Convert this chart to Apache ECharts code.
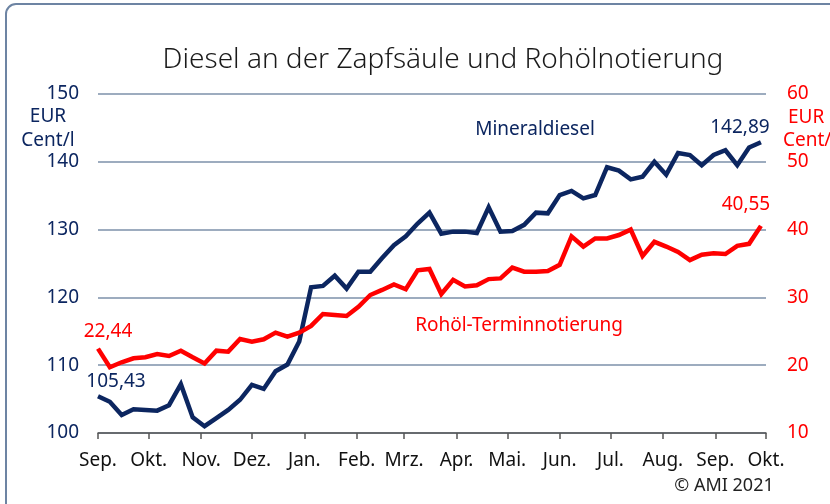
<!DOCTYPE html>
<html>
<head>
<meta charset="utf-8">
<script src="https://cdn.jsdelivr.net/npm/echarts@6/dist/echarts.min.js"></script>
<style>
  html, body { margin: 0; padding: 0; background: #fff; }
  #main { width: 830px; height: 504px; }
</style>
</head>
<body>
<div id="main"></div>
<script>
// weekly quotes, Sep 2020 - Sep 2021
var weeks = [
  "2020-09-01", "2020-09-08", "2020-09-15", "2020-09-22", "2020-09-29",
  "2020-10-06", "2020-10-13", "2020-10-20", "2020-10-27",
  "2020-11-03", "2020-11-10", "2020-11-17", "2020-11-24",
  "2020-12-01", "2020-12-08", "2020-12-15", "2020-12-22", "2020-12-29",
  "2021-01-05", "2021-01-12", "2021-01-19", "2021-01-26",
  "2021-02-02", "2021-02-09", "2021-02-16", "2021-02-23",
  "2021-03-02", "2021-03-09", "2021-03-16", "2021-03-23", "2021-03-30",
  "2021-04-06", "2021-04-13", "2021-04-20", "2021-04-27",
  "2021-05-04", "2021-05-11", "2021-05-18", "2021-05-25",
  "2021-06-01", "2021-06-08", "2021-06-15", "2021-06-22", "2021-06-29",
  "2021-07-06", "2021-07-13", "2021-07-20", "2021-07-27",
  "2021-08-03", "2021-08-10", "2021-08-17", "2021-08-24", "2021-08-31",
  "2021-09-07", "2021-09-14", "2021-09-21", "2021-09-28"
];

// Mineraldiesel, EUR Cent/l (left axis)
var diesel = [
  105.43, 104.6, 102.65, 103.5, 103.4,
  103.3, 104.1, 107.2, 102.3,
  101.0, 102.2, 103.4, 104.9,
  107.1, 106.5, 109.1, 110.1, 113.5,
  121.5, 121.7, 123.2, 121.3,
  123.8, 123.8, 125.8, 127.7,
  129.0, 130.9, 132.5, 129.4, 129.7,
  129.7, 129.5, 133.3, 129.7,
  129.8, 130.7, 132.5, 132.4,
  135.1, 135.7, 134.6, 135.1, 139.2,
  138.7, 137.4, 137.8, 140.0,
  138.1, 141.3, 141.0, 139.5, 141.0,
  141.7, 139.5, 142.1, 142.89
];

// Rohöl-Terminnotierung, EUR Cent/l (right axis)
var rohoel = [
  22.44, 19.69, 20.43, 21.02, 21.17,
  21.65, 21.36, 22.14, 21.17,
  20.25, 22.14, 22.0, 23.86,
  23.47, 23.82, 24.8, 24.2, 24.8,
  25.8, 27.55, 27.4, 27.25,
  28.6, 30.35, 31.1, 31.9,
  31.2, 34.0, 34.2, 30.5, 32.6,
  31.6, 31.8, 32.7, 32.8,
  34.4, 33.8, 33.8, 33.9,
  34.8, 39.0, 37.5, 38.7, 38.7,
  39.2, 40.0, 36.1, 38.2,
  37.5, 36.7, 35.5, 36.3, 36.5,
  36.4, 37.6, 37.9, 40.55
];

var monthNames = ["Jan.", "Feb.", "Mrz.", "Apr.", "Mai.", "Jun.", "Jul.", "Aug.", "Sep.", "Okt.", "Nov.", "Dez."];
var leftRange = [100, 150];
var rightRange = [10, 60];

var navy = "#0c2660";
var red = "#ff0000";
var font = "Noto Sans";

function fmt(v) {
  return v.toFixed(2).replace(".", ",");
}

function buildData(values, firstOffset, lastOffset) {
  return values.map(function (v, i) {
    var item = { value: [weeks[i], v] };
    if (i === 0 || i === values.length - 1) {
      item.label = { show: true, position: "top", offset: i === 0 ? firstOffset : lastOffset };
    }
    return item;
  });
}

var myChart = echarts.init(document.getElementById("main"));

var option = {
  animation: false,
  grid: { left: 98, right: 64, top: 94, bottom: 71 },
  xAxis: {
    type: "time",
    min: +new Date(2020, 8, 1),
    max: +new Date(2021, 9, 1),
    splitNumber: 13,
    axisLine: { lineStyle: { color: "#555", width: 1.5 } },
    axisTick: { show: true, length: 6, lineStyle: { color: "#555", width: 1.5 } },
    splitLine: { show: false },
    axisLabel: {
      color: "#111",
      fontSize: 19,
      fontFamily: font,
      margin: 18,
      showMinLabel: true,
      showMaxLabel: true,
      formatter: function (value) {
        return monthNames[new Date(value).getMonth()];
      }
    }
  },
  yAxis: [
    {
      type: "value",
      min: leftRange[0],
      max: leftRange[1],
      interval: 10,
      axisLine: { show: false },
      axisTick: { show: false },
      splitLine: { lineStyle: { color: "#7d91aa", width: 1.5 } },
      axisLabel: { color: navy, fontSize: 19, fontFamily: font, margin: 19 }
    },
    {
      type: "value",
      min: rightRange[0],
      max: rightRange[1],
      interval: 10,
      axisLine: { show: false },
      axisTick: { show: false },
      splitLine: { show: false },
      axisLabel: { color: red, fontSize: 19, fontFamily: font, margin: 21 }
    }
  ],
  series: [
    {
      name: "Mineraldiesel",
      type: "line",
      yAxisIndex: 0,
      symbol: "circle",
      symbolSize: 0,
      showAllSymbol: true,
      lineStyle: { color: navy, width: 4.5, join: "miter" },
      itemStyle: { color: navy },
      label: {
        color: navy,
        fontSize: 19,
        fontFamily: font,
        formatter: function (p) { return fmt(p.value[1]); }
      },
      data: buildData(diesel, [18, 0], [-21, 0])
    },
    {
      name: "Rohöl-Terminnotierung",
      type: "line",
      yAxisIndex: 1,
      symbol: "circle",
      symbolSize: 0,
      showAllSymbol: true,
      lineStyle: { color: red, width: 4.5, join: "miter" },
      itemStyle: { color: red },
      label: {
        color: red,
        fontSize: 19,
        fontFamily: font,
        formatter: function (p) { return fmt(p.value[1]); }
      },
      data: buildData(rohoel, [10, -3], [-15, -7])
    }
  ],
  graphic: [
    {
      type: "rect",
      shape: { x: 6, y: 4, width: 900, height: 600, r: 10 },
      style: { fill: "none", stroke: "#6d84a3", lineWidth: 2 },
      silent: true
    },
    {
      type: "text", x: 443, y: 60,
      style: { text: "Diesel an der Zapfsäule und Rohölnotierung", fill: "#1a1a1a", font: "300 28px 'Noto Sans'", textAlign: "center", textVerticalAlign: "middle" }
    },
    {
      type: "text", x: 48, y: 117,
      style: { text: "EUR", fill: navy, font: "19px 'Noto Sans'", textAlign: "center", textVerticalAlign: "middle" }
    },
    {
      type: "text", x: 48, y: 141,
      style: { text: "Cent/l", fill: navy, font: "19px 'Noto Sans'", textAlign: "center", textVerticalAlign: "middle" }
    },
    {
      type: "text", x: 788, y: 118,
      style: { text: "EUR", fill: red, font: "19px 'Noto Sans'", textAlign: "left", textVerticalAlign: "middle" }
    },
    {
      type: "text", x: 783, y: 141,
      style: { text: "Cent/l", fill: red, font: "19px 'Noto Sans'", textAlign: "left", textVerticalAlign: "middle" }
    },
    {
      type: "text", x: 535, y: 130,
      style: { text: "Mineraldiesel", fill: navy, font: "19px 'Noto Sans'", textAlign: "center", textVerticalAlign: "middle" }
    },
    {
      type: "text", x: 519, y: 326,
      style: { text: "Rohöl-Terminnotierung", fill: red, font: "19px 'Noto Sans'", textAlign: "center", textVerticalAlign: "middle" }
    },
    {
      type: "text", x: 724, y: 486,
      style: { text: "© AMI 2021", fill: "#222", font: "18px 'Noto Sans'", textAlign: "center", textVerticalAlign: "middle" }
    }
  ]
};

myChart.setOption(option);
</script>
</body>
</html>
